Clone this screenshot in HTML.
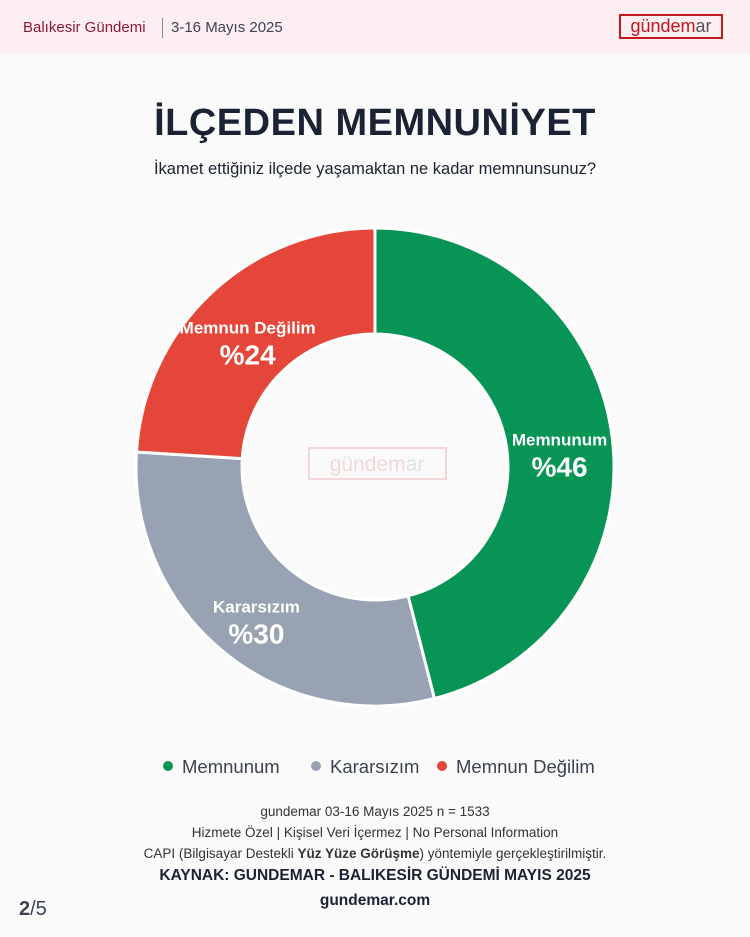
<!DOCTYPE html>
<html><head><meta charset="utf-8">
<style>
body{margin:0;width:750px;height:937px;background:#fafafa;font-family:"Liberation Sans","DejaVu Sans",sans-serif;position:relative;overflow:hidden}
.hdr{position:absolute;left:0;top:0;width:750px;height:54px;background:#fdeef2}
.t1{position:absolute;left:23px;top:19px;font-size:15px;color:#8b1a3a}
.sep{position:absolute;left:162px;top:18px;width:1px;height:20px;background:#888}
.t2{position:absolute;left:171px;top:19px;font-size:15px;color:#3b4252}
.logo{position:absolute;left:619px;top:14px;width:104px;height:25px;border:2px solid #c4161c;box-sizing:border-box;font-size:18px;color:#c4161c;text-align:center;line-height:21px}
.logo span{color:#555}
h1{position:absolute;top:102px;left:0;width:750px;margin:0;text-align:center;font-size:38px;font-weight:bold;color:#1b2233;letter-spacing:0.5px}
.sub{position:absolute;top:160px;width:750px;text-align:center;font-size:16.5px;color:#1b2233}
.foot{position:absolute;width:750px;text-align:center;font-size:13.5px;color:#333}
</style></head><body>
<div class="hdr">
<div class="t1">Balıkesir Gündemi</div>
<div class="sep"></div>
<div class="t2">3-16 Mayıs 2025</div>
<div class="logo">gündem<span>ar</span></div>
</div>
<h1>İLÇEDEN MEMNUNİYET</h1>
<div class="sub">İkamet ettiğiniz ilçede yaşamaktan ne kadar memnunsunuz?</div>
<svg id="chart" width="750" height="937" style="position:absolute;left:0;top:0"></svg>
<div class="foot" style="top:804px">gundemar 03-16 Mayıs 2025 n = 1533</div>
<div class="foot" style="top:825px">Hizmete Özel | Kişisel Veri İçermez | No Personal Information</div>
<div class="foot" style="top:846px">CAPI (Bilgisayar Destekli <b>Yüz Yüze Görüşme</b>) yöntemiyle gerçekleştirilmiştir.</div>
<div class="foot" style="top:867px;font-size:15.5px;font-weight:bold;color:#1b2233">KAYNAK: GUNDEMAR - BALIKESİR GÜNDEMİ MAYIS 2025</div>
<div class="foot" style="top:892px;font-size:15.5px;font-weight:bold;color:#1b2233">gundemar.com</div>
<div style="position:absolute;left:19px;top:898px;font-size:20px;color:#3b4252"><b>2</b>/5</div>
<script>
const categories=["Memnunum","Kararsızım","Memnun Değilim"];
const values=[46,30,24];
const colors=["#079455","#98a2b3","#e5463a"];
const NS="http://www.w3.org/2000/svg";
const svg=document.getElementById("chart");
const cx=375,cy=467,R=239,r=133;
const total=values.reduce((a,b)=>a+b,0);
function pt(a,rad){return [cx+rad*Math.sin(a),cy-rad*Math.cos(a)];}
let acc=0;
values.forEach((v,i)=>{
 const a0=acc/total*2*Math.PI;acc+=v;const a1=acc/total*2*Math.PI;
 const lg=(a1-a0)>Math.PI?1:0;
 const [x0,y0]=pt(a0,R),[x1,y1]=pt(a1,R),[x2,y2]=pt(a1,r),[x3,y3]=pt(a0,r);
 const p=document.createElementNS(NS,"path");
 p.setAttribute("d",`M${x0},${y0}A${R},${R} 0 ${lg} 1 ${x1},${y1}L${x2},${y2}A${r},${r} 0 ${lg} 0 ${x3},${y3}Z`);
 p.setAttribute("fill",colors[i]);p.setAttribute("stroke","#fff");p.setAttribute("stroke-width","3");
 
 
 svg.appendChild(p);
 const [lx,ly0]=pt((a0+a1)/2,186);
 const ly=ly0+10;
 const t=document.createElementNS(NS,"text");
 t.setAttribute("x",lx);t.setAttribute("y",ly-8);t.setAttribute("text-anchor","middle");
 t.setAttribute("fill","#fff");t.setAttribute("font-size","17");t.setAttribute("font-weight","bold");
 t.textContent=categories[i];
 
 
 svg.appendChild(t);
 const t2=document.createElementNS(NS,"text");
 t2.setAttribute("x",lx);t2.setAttribute("y",ly+23);t2.setAttribute("text-anchor","middle");
 t2.setAttribute("fill","#fff");t2.setAttribute("font-size","28");t2.setAttribute("font-weight","bold");
 t2.textContent="%"+v;
 
 
 svg.appendChild(t2);
});
const wm=document.createElementNS(NS,"g");


wm.setAttribute("opacity","0.15");
wm.innerHTML='<rect x="309" y="448" width="137" height="31" fill="none" stroke="#c4161c" stroke-width="2"/><text x="377" y="471" text-anchor="middle" font-size="21" fill="#c4161c">gündem<tspan fill="#555">ar</tspan></text>';
svg.appendChild(wm);
const lx=[168,316,442];
categories.forEach((c,i)=>{
 const g=document.createElementNS(NS,"g");
 
 
 const ci=document.createElementNS(NS,"circle");
 ci.setAttribute("cx",lx[i]);ci.setAttribute("cy",766);ci.setAttribute("r",5);ci.setAttribute("fill",colors[i]);
 const t=document.createElementNS(NS,"text");
 t.setAttribute("x",lx[i]+14);t.setAttribute("y",773);t.setAttribute("font-size","18.5");t.setAttribute("fill","#3b4252");
 t.textContent=c;
 g.appendChild(ci);g.appendChild(t);svg.appendChild(g);
});
</script>
</body></html>
